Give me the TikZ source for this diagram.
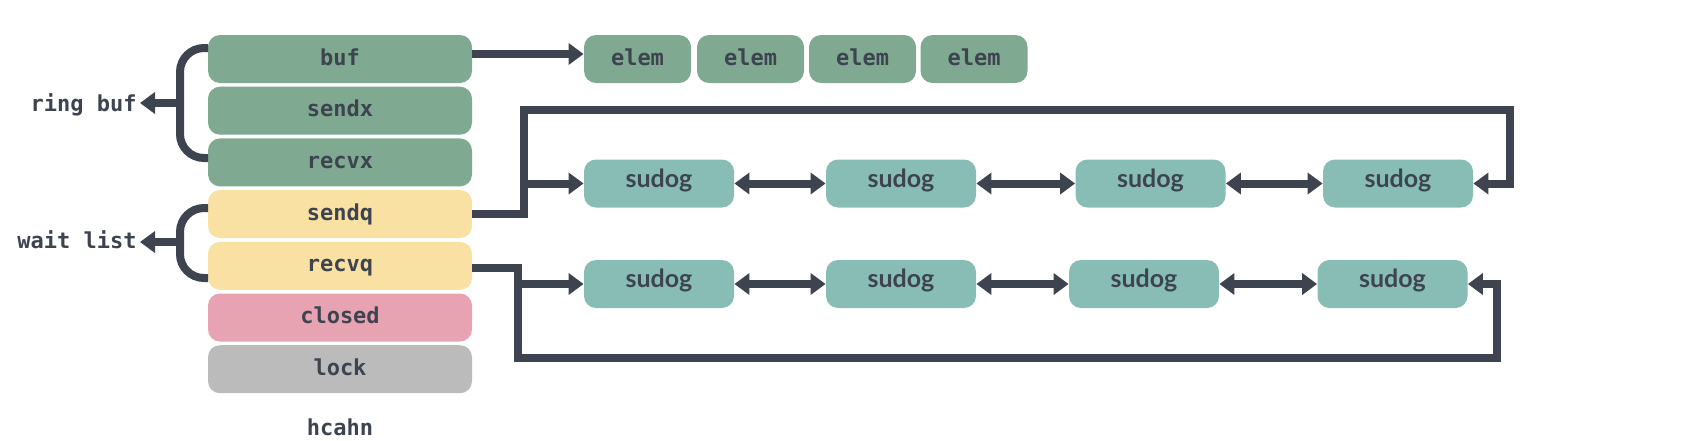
\documentclass[tikz,border=0pt]{standalone}
\usepackage{fontspec}
\setmonofont{DejaVu Sans Mono}
\newfontfamily\sudogfont{Lato}
\usetikzlibrary{arrows.meta}
\definecolor{ink}{HTML}{3D4450}
\definecolor{grn}{HTML}{7FA990}
\definecolor{ylw}{HTML}{F9E0A3}
\definecolor{pnk}{HTML}{E8A3B3}
\definecolor{gry}{HTML}{BBBBBB}
\definecolor{sdg}{HTML}{88BDB5}
\tikzset{
  box/.style={rectangle, rounded corners=6pt, inner sep=0pt, minimum height=24pt,
    text=ink, text height=8pt, text depth=2pt,
    font=\ttfamily\bfseries\fontsize{11}{13}\selectfont},
  field/.style={box, minimum width=132pt},
  elembox/.style={box, fill=grn, minimum width=53.5pt},
  sudogbox/.style={box, fill=sdg, minimum width=75pt, text height=8pt, text depth=4.3pt,
    font=\sudogfont\bfseries\fontsize{12.5}{14}\selectfont},
  lbl/.style={inner sep=0pt, text=ink, font=\ttfamily\bfseries\fontsize{11}{13}\selectfont},
  tip/.tip={Triangle[length=7.5pt,width=10.5pt]},
  link/.style={draw=ink, line width=4pt, -tip},
  dlink/.style={draw=ink, line width=4pt, tip-tip},
  brace/.style={draw=ink, line width=4pt, rounded corners=12pt},
}
\begin{document}
\begin{tikzpicture}[x=0.5pt,y=-0.5pt]
\useasboundingbox (0,0) rectangle (1686,440);
% channel fields
\node[field, fill=grn] (buf)    at (340,59)    {buf};
\node[field, fill=grn] (sendx)  at (340,110.7) {sendx};
\node[field, fill=grn] (recvx)  at (340,162.4) {recvx};
\node[field, fill=ylw] (sendq)  at (340,214)   {sendq};
\node[field, fill=ylw] (recvq)  at (340,265.8) {recvq};
\node[field, fill=pnk] (closed) at (340,317.5) {closed};
\node[field, fill=gry] (lock)   at (340,369.2) {lock};
\node[lbl, anchor=base] (title) at (340,435) {hcahn};
% ring buffer elements
\node[elembox] (e1) at (637.5,59) {elem};
\node[elembox] (e2) at (750.5,59) {elem};
\node[elembox] (e3) at (862.5,59) {elem};
\node[elembox] (e4) at (974,59)   {elem};
% sudog rows
\node[sudogbox] (s11) at (659,183.5)    {sudog};
\node[sudogbox] (s12) at (901,183.5)    {sudog};
\node[sudogbox] (s13) at (1150.5,183.5) {sudog};
\node[sudogbox] (s14) at (1398,183.5)   {sudog};
\node[sudogbox] (s21) at (659,284)      {sudog};
\node[sudogbox] (s22) at (901,284)      {sudog};
\node[sudogbox] (s23) at (1144,284)     {sudog};
\node[sudogbox] (s24) at (1392.5,284)   {sudog};
% side labels
\node[lbl, anchor=base east] (ringlbl) at (137,111) {ring buf};
\node[lbl, anchor=base east] (waitlbl) at (137,248.5) {wait list};
% brackets
\coordinate (rb1) at (208,48);
\coordinate (rb2) at (180,48);
\coordinate (rb3) at (180,158);
\coordinate (rb4) at (208,158);
\coordinate (rbm) at (180,103);
\coordinate (rbt) at (140,103);
\draw[brace] (rb1) -- (rb2) -- (rb3) -- (rb4);
\draw[link] (rbm) -- (rbt);
\coordinate (wl1) at (208,208);
\coordinate (wl2) at (180,208);
\coordinate (wl3) at (180,278);
\coordinate (wl4) at (208,278);
\coordinate (wlm) at (180,242);
\coordinate (wlt) at (140,242);
\draw[brace] (wl1) -- (wl2) -- (wl3) -- (wl4);
\draw[link] (wlm) -- (wlt);
% buf -> elems
\draw[link] ([yshift=2.5pt]buf.east) -- ([yshift=2.5pt]e1.west);
% sendq list
\coordinate (sq0) at (524,214);
\coordinate (sqA) at (524,110);
\coordinate (sqB) at (1510,110);
\coordinate (sqC) at (1510,183.5);
\coordinate (sqD) at (524,183.5);
\draw[link] (sendq.east) -- (sq0) -- (sqA) -- (sqB) -- (sqC) -- (s14.east);
\draw[link] (sqD) -- (s11.west);
\draw[dlink] (s11) -- (s12);
\draw[dlink] (s12) -- (s13);
\draw[dlink] (s13) -- (s14);
% recvq list
\coordinate (rq0) at (518,267.8);
\coordinate (rqA) at (518,358);
\coordinate (rqB) at (1497,358);
\coordinate (rqC) at (1497,284);
\coordinate (rqD) at (518,284);
\draw[link] ([yshift=-1pt]recvq.east) -- (rq0) -- (rqA) -- (rqB) -- (rqC) -- (s24.east);
\draw[link] (rqD) -- (s21.west);
\draw[dlink] (s21) -- (s22);
\draw[dlink] (s22) -- (s23);
\draw[dlink] (s23) -- (s24);
\end{tikzpicture}
\end{document}
